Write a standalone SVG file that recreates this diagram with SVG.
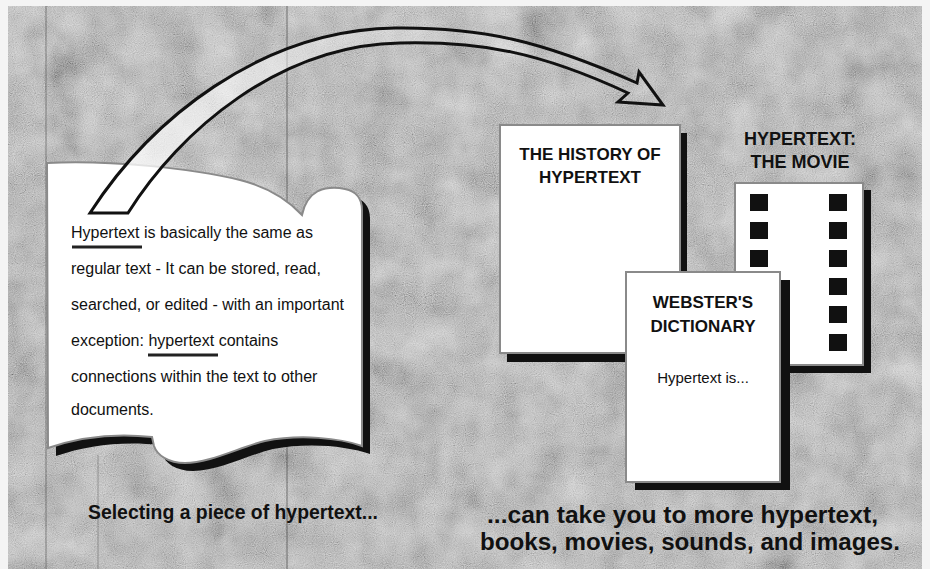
<svg xmlns="http://www.w3.org/2000/svg" width="930" height="569" viewBox="0 0 930 569">
<defs>
  <filter id="tex" x="0" y="0" width="100%" height="100%">
    <feTurbulence type="fractalNoise" baseFrequency="0.025" numOctaves="3" seed="5" result="big"/>
    <feTurbulence type="fractalNoise" baseFrequency="0.9" numOctaves="1" seed="2" result="grain"/>
    <feComposite in="big" in2="grain" operator="arithmetic" k1="0" k2="0.5" k3="0.5" k4="0" result="mix"/>
    <feColorMatrix in="mix" type="matrix" values="0.33 0.33 0.33 0 0  0.33 0.33 0.33 0 0  0.33 0.33 0.33 0 0  0 0 0 0 1"/>
    <feComponentTransfer>
      <feFuncR type="linear" slope="2.6" intercept="-0.75"/>
      <feFuncG type="linear" slope="2.6" intercept="-0.75"/>
      <feFuncB type="linear" slope="2.6" intercept="-0.75"/>
    </feComponentTransfer>
  </filter>
  <linearGradient id="arrowFill" x1="0" y1="0" x2="1" y2="0">
    <stop offset="0" stop-color="#ffffff" stop-opacity="0.85"/>
    <stop offset="0.5" stop-color="#ffffff" stop-opacity="0.3"/>
    <stop offset="1" stop-color="#ffffff" stop-opacity="0.05"/>
  </linearGradient>
  <style>
    .doc { fill: #ffffff; stroke: #8a8a8a; stroke-width: 2; }
    .shadow { fill: #111111; }
    .title { font-family: "Liberation Sans", Arial, sans-serif; font-weight: bold; font-size: 17px; fill: #111; text-anchor: middle; }
    .body { font-family: "Liberation Sans", Arial, sans-serif; font-size: 16px; fill: #111; }
    .caption { font-family: "Liberation Sans", Arial, sans-serif; font-weight: bold; font-size: 23px; fill: #111; }
    .hole { fill: #111; }
    .uline { stroke: #222; stroke-width: 3; }
    .scan { stroke: #333; stroke-width: 1; }
  </style>
</defs>

<!-- background -->
<rect x="0" y="0" width="930" height="569" fill="#f4f4f4"/>
<rect x="8" y="6" width="914" height="563" fill="#b9b9b9"/>
<rect x="8" y="6" width="914" height="563" filter="url(#tex)" opacity="0.5"/>
<line class="scan" x1="46" y1="6" x2="46" y2="569" opacity="0.5"/>
<line class="scan" x1="98" y1="455" x2="98" y2="569" opacity="0.35"/>
<line class="scan" x1="287" y1="6" x2="287" y2="569" opacity="0.6"/>

<!-- scroll page -->
<g id="page">
  <path class="shadow" transform="translate(8,8)" d="M47,163 C110,160 190,168 240,180 C268,187 288,200 302,215 C304,205 309,196 318,191 C325,188 335,187 345,189 C355,191 362,198 362,210 L362,446 C340,438 300,434 265,441 C240,447 210,463 185,463 C168,463 157,455 154,446 L152,437 C115,433 80,437 48,448 Z"/>
  <path class="doc" d="M47,163 C110,160 190,168 240,180 C268,187 288,200 302,215 C304,205 309,196 318,191 C325,188 335,187 345,189 C355,191 362,198 362,210 L362,446 C340,438 300,434 265,441 C240,447 210,463 185,463 C168,463 157,455 154,446 L152,437 C115,433 80,437 48,448 Z"/>
  <text class="body" x="71" y="238">Hypertext is basically the same as</text>
  <text class="body" x="71" y="274">regular text - It can be stored, read,</text>
  <text class="body" x="71" y="310">searched, or edited - with an important</text>
  <text class="body" x="71" y="346">exception: hypertext contains</text>
  <text class="body" x="71" y="382">connections within the text to other</text>
  <text class="body" x="71" y="415">documents.</text>
  <line class="uline" x1="72" y1="247" x2="142" y2="247"/>
  <line class="uline" x1="148" y1="355" x2="218" y2="355"/>
</g>

<!-- documents -->
<g id="history">
  <rect class="shadow" x="507" y="133" width="180" height="229"/>
  <rect class="doc" x="500" y="125" width="180" height="228"/>
  <text class="title" x="590" y="160">THE HISTORY OF</text>
  <text class="title" x="590" y="183">HYPERTEXT</text>
</g>

<g id="movie">
  <text class="title" x="800" y="145" style="font-size:18px">HYPERTEXT:</text>
  <text class="title" x="800" y="168" style="font-size:18px">THE MOVIE</text>
  <rect class="shadow" x="743" y="190" width="128" height="183"/>
  <rect class="doc" x="735" y="183" width="128" height="182"/>
  <rect class="hole" x="750" y="194" width="18" height="17"/>
  <rect class="hole" x="750" y="222" width="18" height="17"/>
  <rect class="hole" x="750" y="250" width="18" height="17"/>
  <rect class="hole" x="829" y="194" width="18" height="17"/>
  <rect class="hole" x="829" y="222" width="18" height="17"/>
  <rect class="hole" x="829" y="250" width="18" height="17"/>
  <rect class="hole" x="829" y="278" width="18" height="17"/>
  <rect class="hole" x="829" y="306" width="18" height="17"/>
  <rect class="hole" x="829" y="334" width="18" height="17"/>
</g>

<g id="webster">
  <rect class="shadow" x="635" y="280" width="155" height="210"/>
  <rect class="doc" x="626" y="272" width="154" height="210"/>
  <text class="title" x="703" y="308">WEBSTER'S</text>
  <text class="title" x="703" y="332">DICTIONARY</text>
  <text class="body" x="703" y="383" text-anchor="middle" style="font-size:15px">Hypertext is...</text>
</g>

<!-- connector -->
<g id="connectors">
  <path d="M90,213 C150,120 260,30 395,28 C480,27 540,40 637,83 L639,72 L663,105 L618,102 L628,93 C540,52 480,41 400,43 C280,45 180,130 128,213 Z" fill="url(#arrowFill)" stroke="#111" stroke-width="3" stroke-linejoin="miter"/>
</g>

<!-- captions -->
<text class="caption" x="88" y="519" style="font-size:21px" textLength="290" lengthAdjust="spacingAndGlyphs">Selecting a piece of hypertext...</text>
<text class="caption" x="487" y="523" textLength="391" lengthAdjust="spacingAndGlyphs">...can take you to more hypertext,</text>
<text class="caption" x="480" y="550" textLength="420" lengthAdjust="spacingAndGlyphs">books, movies, sounds, and images.</text>
</svg>
